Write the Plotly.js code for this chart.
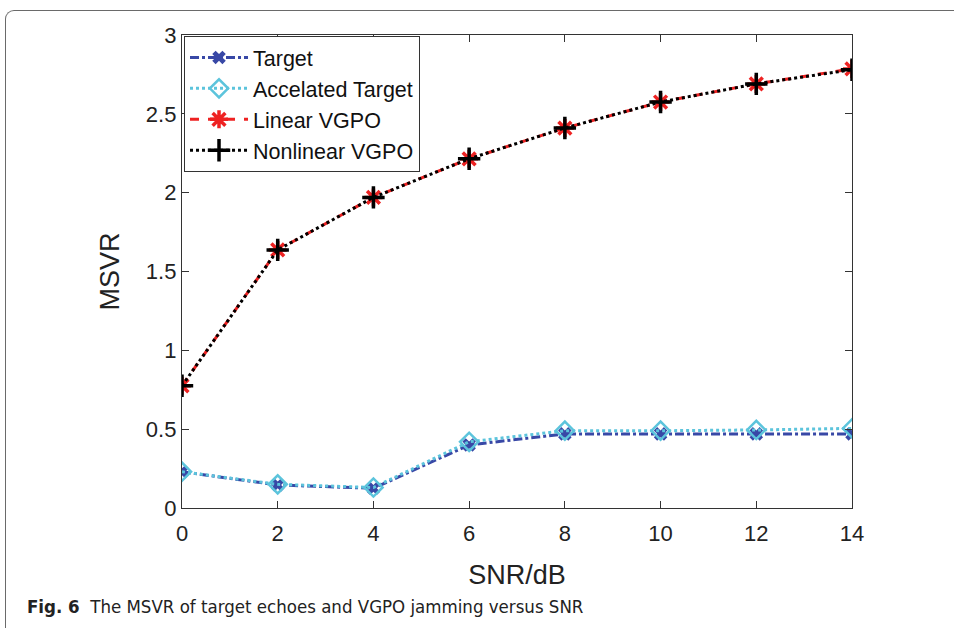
<!DOCTYPE html>
<html>
<head>
<meta charset="utf-8">
<script src="https://cdn.plot.ly/plotly-3.0.1.min.js"></script>
<style>
  html, body { margin: 0; padding: 0; background: #fff; overflow: hidden; }
  #frame { position: absolute; left: 5px; top: 10px; width: 1200px; height: 900px;
           border-left: 1px solid #6a6a6a; border-top: 1px solid #6a6a6a; border-top-left-radius: 9px; }
  #chart { position: absolute; left: 0; top: 0; width: 954px; height: 628px; }
</style>
</head>
<body>
<div id="frame"></div>
<div id="chart"></div>
<script>
const snr = [0, 2, 4, 6, 8, 10, 12, 14];
const target = [0.23, 0.146, 0.125, 0.40, 0.47, 0.47, 0.47, 0.47];
const accelTarget = [0.23, 0.15, 0.13, 0.42, 0.49, 0.49, 0.495, 0.505];
const linearVGPO = [0.775, 1.637, 1.97, 2.215, 2.41, 2.575, 2.69, 2.785];
const nonlinearVGPO = [0.775, 1.637, 1.97, 2.215, 2.41, 2.575, 2.69, 2.78];
const names = ['Target', 'Accelated Target', 'Linear VGPO', 'Nonlinear VGPO'];
const xTicks = [0, 2, 4, 6, 8, 10, 12, 14];
const yTicks = [0, 0.5, 1, 1.5, 2, 2.5, 3];
const yTickText = ['0', '0.5', '1', '1.5', '2', '2.5', '3'];

const traces = [
  { x: snr, y: target, name: names[0], mode: 'lines+markers',
    line: { color: '#3848a6', width: 3, dash: 'dashdot' },
    marker: { symbol: 'x', size: 12, color: '#3848a6' } },
  { x: snr, y: accelTarget, name: names[1], mode: 'lines+markers',
    line: { color: '#5cc4dc', width: 3, dash: 'dot' },
    marker: { symbol: 'diamond-open', size: 14, color: '#5cc4dc', line: { width: 2.5, color: '#5cc4dc' } } },
  { x: snr, y: linearVGPO, name: names[2], mode: 'lines+markers',
    line: { color: '#ee2222', width: 3, dash: 'dash' },
    marker: { symbol: 'asterisk-open', size: 15, color: '#ee2222', line: { width: 3.5, color: '#ee2222' } } },
  { x: snr, y: nonlinearVGPO, name: names[3], mode: 'lines+markers',
    line: { color: '#000000', width: 3, dash: 'dot' },
    marker: { symbol: 'cross-thin-open', size: 16, color: '#000000', line: { width: 3.5, color: '#000000' } } }
];

const axisCommon = {
  showline: true, linecolor: '#333', linewidth: 1.2, mirror: 'ticks',
  ticks: 'inside', ticklen: 7, tickcolor: '#333', tickwidth: 1,
  showgrid: false, zeroline: false,
  tickfont: { family: 'Liberation Sans, Arial, sans-serif', size: 22, color: '#222' }
};

const layout = {
  width: 954, height: 628,
  margin: { l: 182, r: 102, t: 35, b: 120 },
  paper_bgcolor: 'rgba(0,0,0,0)', plot_bgcolor: '#fff',
  showlegend: true,
  xaxis: Object.assign({}, axisCommon, {
    range: [0, 14], tickvals: xTicks, ticklabelstandoff: 5,
    title: { text: 'SNR/dB', font: { family: 'Liberation Sans, Arial, sans-serif', size: 27, color: '#222' }, standoff: 20 }
  }),
  yaxis: Object.assign({}, axisCommon, {
    range: [0, 3], tickvals: yTicks, ticktext: yTickText,
    title: { text: 'MSVR', font: { family: 'Liberation Sans, Arial, sans-serif', size: 27, color: '#222' }, standoff: 18 }
  }),
  legend: {
    x: 0.003, y: 0.998, xanchor: 'left', yanchor: 'top',
    bgcolor: '#fff', bordercolor: '#333', borderwidth: 1,
    itemwidth: 58, tracegroupgap: 0,
    font: { family: 'Liberation Sans, Arial, sans-serif', size: 21.5, color: '#111' }
  },
  annotations: [{
    xref: 'paper', yref: 'paper', x: -0.235, y: -0.209, xanchor: 'left', yanchor: 'middle',
    showarrow: false,
    text: '<b>Fig. 6</b>  The MSVR of target echoes and VGPO jamming versus SNR',
    font: { family: 'DejaVu Sans Condensed, Noto Sans, sans-serif', size: 18.5, color: '#222' }
  }]
};

Plotly.newPlot('chart', traces, layout, { displayModeBar: false, staticPlot: true });
</script>
</body>
</html>
